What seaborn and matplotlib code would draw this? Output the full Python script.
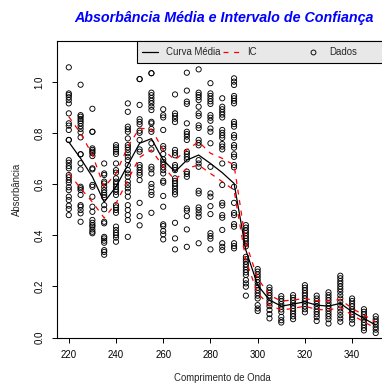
import matplotlib
matplotlib.use("Agg")
import matplotlib.pyplot as plt
import seaborn as sns
import pandas as pd
from matplotlib.lines import Line2D
from matplotlib.patches import Rectangle
from matplotlib.legend import Legend

# ---------------- data ----------------
comprimentos = [220, 225, 230, 235, 240, 245, 250, 255, 260, 265, 270, 275, 280,
                285, 290, 295, 300, 305, 310, 315, 320, 325, 330, 335, 340, 345, 350]

a220 = [1.057, 0.955, 0.949, 0.940, 0.929, 0.916, 0.877, 0.838, 0.829, 0.812, 0.773, 0.773, 0.694, 0.684,
        0.671, 0.662, 0.636, 0.627, 0.616, 0.606, 0.588, 0.577, 0.551, 0.538, 0.516, 0.503, 0.479]
a225 = [0.989, 0.870, 0.864, 0.855, 0.847, 0.838, 0.827, 0.816, 0.803, 0.783, 0.717, 0.717, 0.682, 0.658,
        0.590, 0.584, 0.577, 0.558, 0.518, 0.512, 0.499, 0.486, 0.453]
a230 = [0.895, 0.805, 0.805, 0.740, 0.734, 0.727, 0.721, 0.710, 0.662, 0.658, 0.597, 0.590, 0.551, 0.512,
        0.492, 0.460, 0.449, 0.440, 0.434, 0.423, 0.414, 0.408]
a235 = [0.681, 0.642, 0.636, 0.610, 0.603, 0.590, 0.577, 0.567, 0.558, 0.549, 0.518, 0.502, 0.453, 0.447,
        0.394, 0.388, 0.379, 0.371, 0.342, 0.335, 0.324]
a240 = [0.753, 0.744, 0.736, 0.727, 0.718, 0.681, 0.655, 0.645, 0.623, 0.610, 0.601, 0.590, 0.580, 0.570,
        0.558, 0.518, 0.509, 0.499, 0.488, 0.434, 0.421, 0.410, 0.401, 0.391, 0.375]
a245 = [0.916, 0.883, 0.825, 0.815, 0.805, 0.779, 0.753, 0.744, 0.734, 0.721, 0.707, 0.694, 0.675, 0.655,
        0.642, 0.629, 0.610, 0.597, 0.584, 0.570, 0.551, 0.518, 0.499, 0.479, 0.460, 0.394]
a250 = [1.011, 1.011, 0.910, 0.854, 0.844, 0.834, 0.809, 0.801, 0.773, 0.736, 0.727, 0.675, 0.666, 0.655,
        0.645, 0.636, 0.616, 0.527, 0.475, 0.439]
a255 = [1.034, 1.034, 0.958, 0.948, 0.937, 0.926, 0.916, 0.903, 0.890, 0.844, 0.838, 0.816, 0.805, 0.760,
        0.736, 0.668, 0.658, 0.642, 0.601, 0.588, 0.570, 0.558, 0.488]
a260 = [0.893, 0.870, 0.861, 0.812, 0.749, 0.739, 0.718, 0.697, 0.687, 0.676, 0.666, 0.655, 0.642, 0.613,
        0.606, 0.554, 0.512, 0.443, 0.436, 0.417, 0.404, 0.384]
a265 = [0.951, 0.877, 0.867, 0.856, 0.843, 0.734, 0.723, 0.713, 0.675, 0.666, 0.655, 0.623, 0.613, 0.603,
        0.593, 0.582, 0.570, 0.560, 0.449, 0.388, 0.345]
a270 = [1.036, 0.966, 0.923, 0.914, 0.838, 0.805, 0.796, 0.786, 0.773, 0.727, 0.718, 0.707, 0.697, 0.649,
        0.640, 0.629, 0.505, 0.496, 0.475, 0.423, 0.355]
a275 = [1.049, 0.958, 0.949, 0.940, 0.929, 0.903, 0.877, 0.867, 0.830, 0.820, 0.773, 0.762, 0.752, 0.694,
        0.681, 0.668, 0.574, 0.564, 0.509, 0.499, 0.486, 0.473, 0.369]
a280 = [0.995, 0.955, 0.945, 0.934, 0.924, 0.914, 0.870, 0.860, 0.848, 0.818, 0.805, 0.760, 0.668, 0.564,
        0.551, 0.514, 0.483, 0.408, 0.397, 0.387, 0.345]
a285 = [0.936, 0.903, 0.893, 0.882, 0.872, 0.861, 0.812, 0.801, 0.791, 0.781, 0.757, 0.747, 0.736, 0.681,
        0.597, 0.527, 0.517, 0.479, 0.469, 0.421, 0.369, 0.355, 0.342]
a290 = [1.014, 1.001, 0.988, 0.945, 0.936, 0.926, 0.916, 0.844, 0.835, 0.825, 0.792, 0.782, 0.753, 0.743,
        0.717, 0.707, 0.675, 0.666, 0.590, 0.527, 0.488, 0.479, 0.444, 0.434, 0.369, 0.358, 0.349]
a295 = [0.440, 0.430, 0.419, 0.409, 0.398, 0.388, 0.378, 0.367, 0.357, 0.316, 0.307, 0.297, 0.286, 0.276,
        0.265, 0.255, 0.245, 0.225, 0.212, 0.199, 0.164]
a300 = [0.268, 0.258, 0.247, 0.237, 0.226, 0.216, 0.205, 0.195, 0.185, 0.174, 0.164, 0.153, 0.127, 0.114, 0.104]
a305 = [0.196, 0.186, 0.175, 0.165, 0.155, 0.144, 0.134, 0.123, 0.108, 0.092, 0.075]
a310 = [0.162, 0.152, 0.142, 0.131, 0.121, 0.110, 0.100, 0.081, 0.068, 0.059]
a315 = [0.166, 0.156, 0.146, 0.135, 0.124, 0.114, 0.104, 0.093, 0.083, 0.072]
a320 = [0.205, 0.195, 0.185, 0.174, 0.164, 0.153, 0.143, 0.132, 0.122, 0.111, 0.099]
a325 = [0.164, 0.153, 0.143, 0.132, 0.122, 0.111, 0.101, 0.091, 0.080, 0.065]
a330 = [0.177, 0.166, 0.156, 0.146, 0.135, 0.124, 0.114, 0.104, 0.093, 0.083, 0.072, 0.055]
a335 = [0.242, 0.232, 0.221, 0.211, 0.200, 0.190, 0.179, 0.166, 0.153, 0.140, 0.127, 0.114, 0.101, 0.088,
        0.075, 0.062]
a340 = [0.153, 0.143, 0.132, 0.122, 0.111, 0.101, 0.091, 0.080, 0.070, 0.055]
a345 = [0.111, 0.101, 0.091, 0.080, 0.070, 0.059, 0.049, 0.038, 0.028]
a350 = [0.083, 0.072, 0.062, 0.052, 0.041, 0.031, 0.018]

media = [0.765, 0.701, 0.629, 0.530, 0.590, 0.675, 0.760, 0.778, 0.694, 0.649, 0.694, 0.714, 0.681,
         0.645, 0.603, 0.342, 0.205, 0.147, 0.123, 0.131, 0.140, 0.127, 0.123, 0.134, 0.101, 0.075, 0.049]
ic_sup = [0.864, 0.799, 0.715, 0.588, 0.642, 0.747, 0.819, 0.815, 0.734, 0.695, 0.734, 0.766, 0.721,
          0.701, 0.675, 0.370, 0.232, 0.166, 0.143, 0.147, 0.153, 0.144, 0.143, 0.149, 0.114, 0.088, 0.062]
ic_inf = [0.642, 0.584, 0.530, 0.468, 0.525, 0.616, 0.705, 0.734, 0.669, 0.616, 0.662, 0.675, 0.642,
          0.610, 0.577, 0.303, 0.173, 0.127, 0.108, 0.114, 0.123, 0.110, 0.108, 0.118, 0.088, 0.062, 0.036]

titulo = "Absorbância Média e Intervalo de Confiança"
rotulo_x = "Comprimento de Onda"
rotulo_y = "Absorbância"
legenda = ["Curva Média", "IC", "Dados"]
xticks = [220, 240, 260, 280, 300, 320, 340]
yticks = [0.0, 0.2, 0.4, 0.6, 0.8, 1.0]

colunas = [a220, a225, a230, a235, a240, a245, a250, a255, a260, a265, a270, a275, a280, a285,
           a290, a295, a300, a305, a310, a315, a320, a325, a330, a335, a340, a345, a350]

# ---------------- frames ----------------
pontos = pd.DataFrame(
    [(w, v) for w, col in zip(comprimentos, colunas) for v in col],
    columns=["comprimento", "absorbancia"],
)
curvas = pd.DataFrame({"comprimento": comprimentos, "media": media,
                       "sup": ic_sup, "inf": ic_inf})

# ---------------- style ----------------
sns.set_style("white")
plt.rcParams["font.family"] = ["Liberation Sans", "DejaVu Sans"]
FS = 6.9

W, H = 382, 383
fig = plt.figure(figsize=(W / 100, H / 100), dpi=100)
ax_l, ax_r, ax_t, ax_b = 56.5, 388.0, 41.0, 337.6
ax = fig.add_axes([ax_l / W, 1 - ax_b / H, (ax_r - ax_l) / W, (ax_b - ax_t) / H])
ax.set_facecolor("white")

sns.scatterplot(data=pontos, x="comprimento", y="absorbancia", ax=ax,
                marker="o", s=14, facecolor="none", edgecolor="black",
                linewidth=0.65, legend=False, zorder=2)
sns.lineplot(data=curvas, x="comprimento", y="media", ax=ax, color="black",
             linewidth=0.9, legend=False, zorder=3)
for col in ["sup", "inf"]:
    sns.lineplot(data=curvas, x="comprimento", y=col, ax=ax, color="red",
                 linewidth=0.9, linestyle=(0, (4, 4.5)), legend=False, zorder=3)

ax.set_xlim(214.8, 355.2)
ax.set_ylim(0, 1.16)
ax.set_xticks(xticks)
ax.set_yticks(yticks)
ax.set_yticklabels([f"{t:.1f}" for t in yticks], rotation=90, va="center")
ax.tick_params(axis="both", direction="out", length=3.8, width=0.7,
               labelsize=FS, pad=5.0, colors="black", bottom=True, left=True)
for side in ["left", "bottom", "top", "right"]:
    ax.spines[side].set_visible(True)
    ax.spines[side].set_color("black")
    ax.spines[side].set_linewidth(0.8)

ax.set_xlabel(rotulo_x, fontsize=FS)
ax.set_ylabel(rotulo_y, fontsize=FS)
ax.xaxis.set_label_coords(0.5, -(378 - ax_b) / (ax_b - ax_t))
ax.xaxis.label.set_va("center")
ax.yaxis.set_label_coords(-(ax_l - 17) / (ax_r - ax_l), 0.5)
ax.yaxis.label.set_va("center")

fig.text(223.5 / W, 1 - 18 / H, titulo, color="blue",
         fontsize=10.3, fontweight="bold", fontstyle="italic", ha="center", va="center")

# ---------------- legend ----------------
axw = ax_r - ax_l
axh = ax_b - ax_t
lx0 = (137.3 - ax_l) / axw
ly0 = 1 - (63.3 - ax_t) / axh
ax.add_patch(Rectangle((lx0, ly0), 1.2 - lx0, 1 - ly0, transform=ax.transAxes,
                       facecolor="#e8e8e8", edgecolor="black", linewidth=0.8,
                       clip_on=False, zorder=5))
handles = [
    Line2D([], [], color="black", linewidth=0.9),
    Line2D([], [], color="red", linewidth=0.9, linestyle=(0, (4, 4.5))),
    Line2D([], [], color="black", marker="o", markersize=3.5, markerfacecolor="none",
           markeredgewidth=0.65, linestyle="none"),
]
starts = [141.7, 222.7, 304.7]
ly_c = 1 - (52.3 - ax_t) / axh
for h, lab, sx in zip(handles, legenda, starts):
    lg = Legend(ax, [h], [lab], loc="center left",
                bbox_to_anchor=((sx - ax_l) / axw, ly_c), bbox_transform=ax.transAxes,
                frameon=False, fontsize=FS, handlelength=1.7, handletextpad=0.85,
                borderpad=0, borderaxespad=0, handleheight=0.7)
    lg.set_zorder(6)
    ax.add_artist(lg)

fig.savefig("out.png", dpi=100)
